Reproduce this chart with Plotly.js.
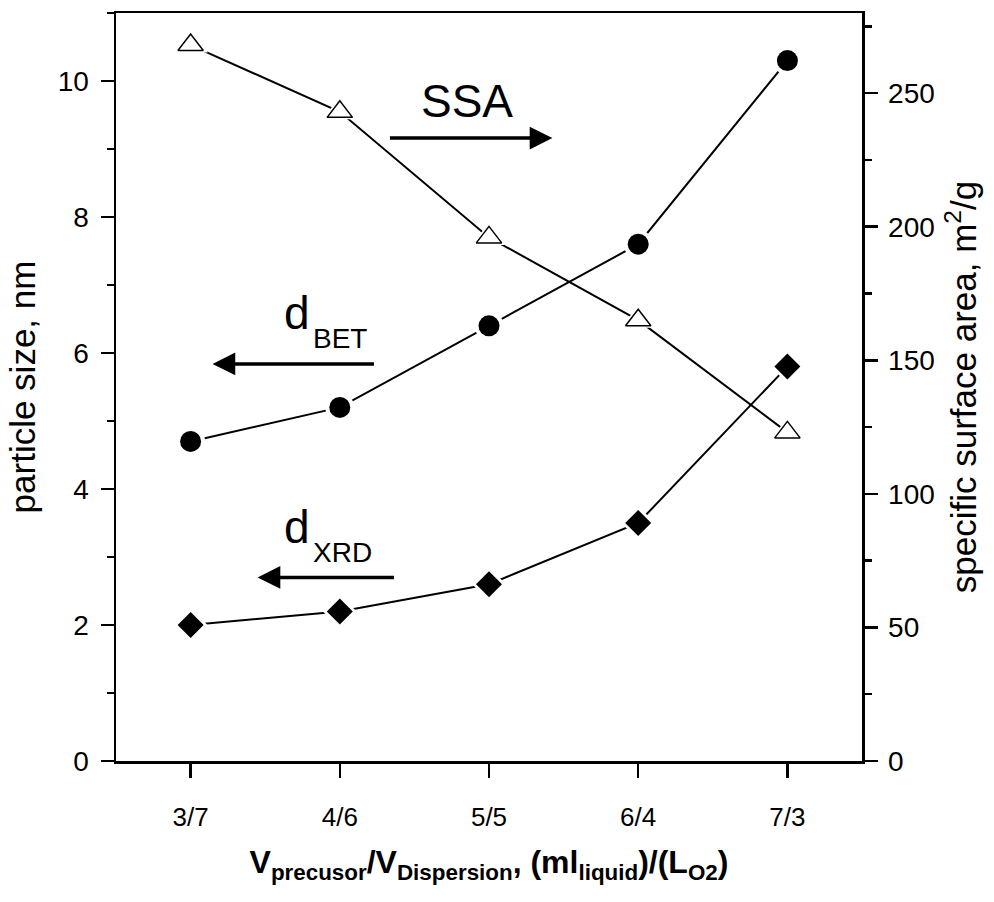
<!DOCTYPE html>
<html><head><meta charset="utf-8">
<script src="https://cdn.plot.ly/plotly-3.0.1.min.js"></script>
<style>body{margin:0;background:#fff}#chart{width:994px;height:902px}</style>
</head><body><div id="chart"></div>
<script>
const categories = ['3/7','4/6','5/5','6/4','7/3'];
const dBET = [4.7, 5.2, 6.4, 7.6, 10.3];
const dXRD = [2.0, 2.2, 2.6, 3.5, 5.8];
const SSA = [268, 243, 196, 165, 123];
const FONT = 'Liberation Sans, Arial, sans-serif';

function series(y, yaxis, symbol, size, maskSize, fill) {
  return [
    {x: categories, y: y, yaxis: yaxis, mode: 'lines', line: {color: '#000', width: 2}, hoverinfo: 'skip', showlegend: false},
    {x: categories, y: y, yaxis: yaxis, mode: 'markers', marker: {symbol: symbol, size: maskSize, color: '#fff', line: {width: 0}}, hoverinfo: 'skip', showlegend: false},
    {x: categories, y: y, yaxis: yaxis, mode: 'markers', marker: {symbol: symbol, size: size, color: fill, line: {color: '#000', width: fill === '#fff' ? 1.5 : 0}}, showlegend: false}
  ];
}
const data = [].concat(
  series(dBET, 'y', 'circle', 21, 29, '#000'),
  series(dXRD, 'y', 'diamond', 20, 26, '#000'),
  series(SSA, 'y2', 'triangle-up', 22, 30, '#fff')
);

const axisCommon = {
  showgrid: false, zeroline: false, showline: true, linecolor: '#000', linewidth: 2.5,
  ticks: 'outside', tickcolor: '#000', tickwidth: 2.5, ticklen: 13,
  tickfont: {family: FONT, size: 28, color: '#000'}
};
function label(x, y, text, size) {
  return {xref: 'x', yref: 'y', x: x, y: y, text: text, showarrow: false,
    font: {family: FONT, size: size, color: '#000'}, xanchor: 'left', yanchor: 'middle'};
}
function arrow(x, y, ax) {
  return {xref: 'x', yref: 'y', axref: 'x', ayref: 'y', x: x, y: y, ax: ax, ay: y, text: '',
    showarrow: true, arrowhead: 2, arrowsize: 1.3, arrowwidth: 3.5, arrowcolor: '#000', standoff: 0};
}
const layout = {
  width: 994, height: 902,
  margin: {l: 116, r: 132, t: 13, b: 141},
  paper_bgcolor: '#fff', plot_bgcolor: '#fff',
  showlegend: false,
  xaxis: Object.assign({}, axisCommon, {
    type: 'category', range: [-0.5, 4.5], mirror: true, ticklen: 14,
    tickfont: {family: FONT, size: 26, color: '#000'},
    ticklabelstandoff: 17,
    title: {text: '<b>V<sub>precusor</sub>/V<sub>Dispersion</sub>, (ml<sub>liquid</sub>)/(L<sub>O2</sub>)</b>',
      font: {family: FONT, size: 32, color: '#000'}, standoff: 20}
  }),
  yaxis: Object.assign({}, axisCommon, {
    range: [0, 11], dtick: 2, tick0: 0,
    minor: {dtick: 1, ticks: 'outside', ticklen: 7, tickwidth: 2.5, tickcolor: '#000', showgrid: false},
    ticklabelstandoff: 6,
    title: {text: 'particle size, nm', font: {family: FONT, size: 35, color: '#000'}, standoff: 12}
  }),
  yaxis2: Object.assign({}, axisCommon, {
    overlaying: 'y', side: 'right', range: [0, 280], dtick: 50, tick0: 0,
    minor: {dtick: 25, ticks: 'outside', ticklen: 7, tickwidth: 2.5, tickcolor: '#000', showgrid: false},
    ticklabelstandoff: 5,
    title: {text: 'specific surface area, m<sup>2</sup>/g', font: {family: FONT, size: 35, color: '#000'}, standoff: 18}
  }),
  annotations: [
    {xref: 'x', yref: 'y', x: 1.855, y: 9.71, text: 'SSA', showarrow: false,
      font: {family: FONT, size: 46, color: '#000'}, xanchor: 'center', yanchor: 'middle'},
    label(0.61, 6.59, 'd', 46),
    label(0.804, 6.21, 'BET', 28),
    label(0.61, 3.44, 'd', 46),
    label(0.804, 3.07, 'XRD', 28),
    arrow(2.425, 9.16, 1.326),
    arrow(0.147, 5.84, 1.239),
    arrow(0.449, 2.70, 1.373)
  ]
};
Plotly.newPlot('chart', data, layout, {staticPlot: true, displayModeBar: false});
</script></body></html>
